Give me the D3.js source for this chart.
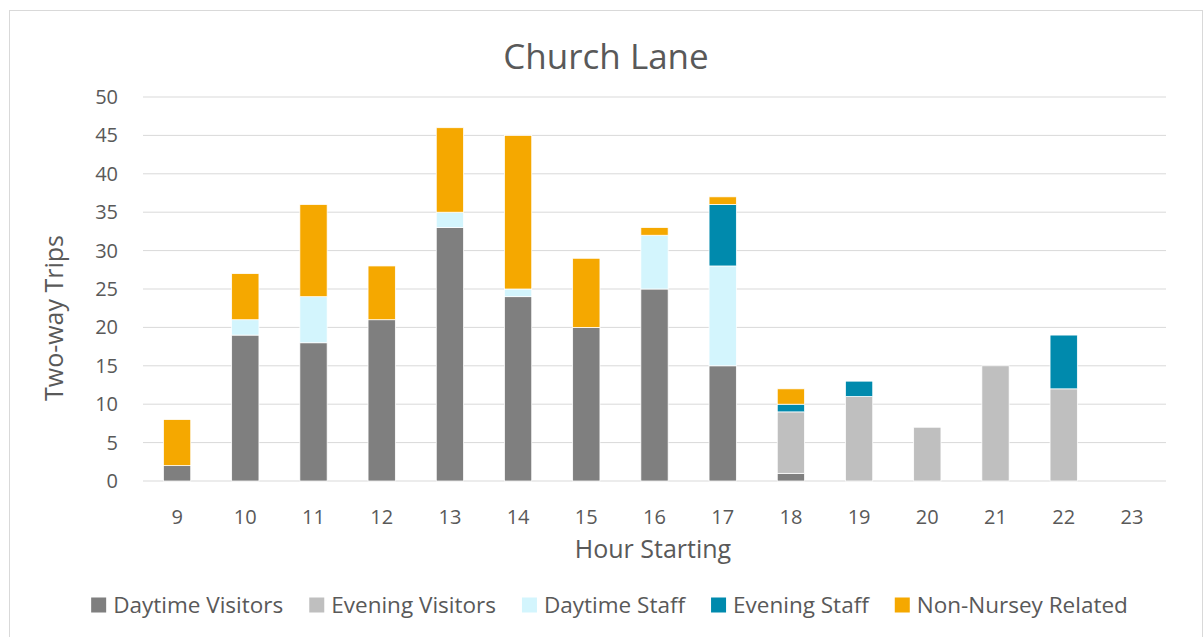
<!DOCTYPE html>
<html>
<head>
<meta charset="utf-8">
<script src="https://cdn.jsdelivr.net/npm/d3@7"></script>
<style>
  body { margin: 0; background: #fff; }
  text { font-family: 'Open Sans', sans-serif; fill: #595959; }
</style>
</head>
<body>
<svg id="chart" width="1204" height="637"></svg>
<script>
const hours = ['9', '10', '11', '12', '13', '14', '15', '16', '17', '18', '19', '20', '21', '22', '23']
const seriesNames = ['Daytime Visitors', 'Evening Visitors', 'Daytime Staff', 'Evening Staff', 'Non-Nursey Related']
const seriesColors = ['#7f7f7f', '#bfbfbf', '#d3f5fd', '#008aad', '#f5a800']

const daytimeVisitors = [2, 19, 18, 21, 33, 24, 20, 25, 15, 1, 0, 0, 0, 0, 0]
const eveningVisitors = [0, 0, 0, 0, 0, 0, 0, 0, 0, 8, 11, 7, 15, 12, 0]
const daytimeStaff = [0, 2, 6, 0, 2, 1, 0, 7, 13, 0, 0, 0, 0, 0, 0]
const eveningStaff = [0, 0, 0, 0, 0, 0, 0, 0, 8, 1, 2, 0, 0, 7, 0]
const nonNursey = [6, 6, 12, 7, 11, 20, 9, 1, 1, 2, 0, 0, 0, 0, 0]
const yTicks = [0, 5, 10, 15, 20, 25, 30, 35, 40, 45, 50]

const svg = d3.select('#chart')

// outer chart border
svg.append('rect')
  .attr('x', 9.5).attr('y', 10.5)
  .attr('width', 1193).attr('height', 640)
  .attr('fill', 'none').attr('stroke', '#d9d9d9').attr('stroke-width', 1)

const margin = { left: 143, right: 1166, top: 97, bottom: 481 }

const x = d3.scaleBand().domain(hours).range([margin.left, margin.right]).paddingInner(0.6).paddingOuter(0.3)
const y = d3.scaleLinear().domain([0, 50]).range([margin.bottom, margin.top])

// gridlines
svg.append('g')
  .selectAll('line')
  .data(yTicks)
  .enter()
  .append('line')
  .attr('x1', margin.left).attr('x2', margin.right)
  .attr('y1', (d) => y(d)).attr('y2', (d) => y(d))
  .attr('stroke', '#d9d9d9').attr('stroke-width', 1)

// y tick labels
svg.append('g')
  .selectAll('text')
  .data(yTicks)
  .enter()
  .append('text')
  .attr('x', 118).attr('y', (d) => y(d))
  .attr('dy', '0.35em')
  .attr('text-anchor', 'end')
  .style('font-size', '20px')
  .text((d) => d)

// x tick labels
svg.append('g')
  .selectAll('text')
  .data(hours)
  .enter()
  .append('text')
  .attr('x', (d) => x(d) + x.bandwidth() / 2).attr('y', 517)
  .attr('dy', '0.35em')
  .attr('text-anchor', 'middle')
  .style('font-size', '20px')
  .text((d) => d)

const table = hours.map((h, i) => ({
  hour: h,
  'Daytime Visitors': daytimeVisitors[i],
  'Evening Visitors': eveningVisitors[i],
  'Daytime Staff': daytimeStaff[i],
  'Evening Staff': eveningStaff[i],
  'Non-Nursey Related': nonNursey[i],
}))

const stacked = d3.stack().keys(seriesNames)(table)

svg.append('g')
  .selectAll('g')
  .data(stacked)
  .enter()
  .append('g')
  .attr('fill', (d, i) => seriesColors[i])
  .selectAll('rect')
  .data((d) => d.filter((p) => p[1] - p[0] > 0))
  .enter()
  .append('rect')
  .attr('x', (d) => x(d.data.hour))
  .attr('width', x.bandwidth())
  .attr('y', (d) => y(d[1]))
  .attr('height', (d) => y(d[0]) - y(d[1]))
  .attr('stroke', '#fff').attr('stroke-width', 0.75)

// title and axis titles
svg.append('text')
  .attr('x', 606).attr('y', 57).attr('dy', '0.35em')
  .attr('text-anchor', 'middle')
  .style('font-size', '35px')
  .text('Church Lane')

svg.append('text')
  .attr('x', 653).attr('y', 549).attr('dy', '0.35em')
  .attr('text-anchor', 'middle')
  .style('font-size', '25px')
  .text('Hour Starting')

svg.append('text')
  .attr('transform', 'translate(54, 318) rotate(-90)')
  .attr('dy', '0.35em')
  .attr('text-anchor', 'middle')
  .style('font-size', '25px')
  .text('Two-way Trips')

// legend
const legend = svg.append('g')
const items = legend.selectAll('g')
  .data(seriesNames)
  .enter()
  .append('g')
items.append('rect')
  .attr('width', 15).attr('height', 15)
  .attr('y', -7.5)
  .attr('fill', (d, i) => seriesColors[i])
items.append('text')
  .attr('x', 22).attr('dy', '0.35em')
  .style('font-size', '22.5px')
  .text((d) => d)

let offset = 0
const starts = []
items.each(function () {
  const w = d3.select(this).select('text').node().getComputedTextLength() + 22
  starts.push(offset)
  offset += w + 26
})
const totalW = offset - 26
const startX = 609.5 - totalW / 2
items.attr('transform', (d, i) => `translate(${startX + starts[i]}, 605)`)
</script>
</body>
</html>
